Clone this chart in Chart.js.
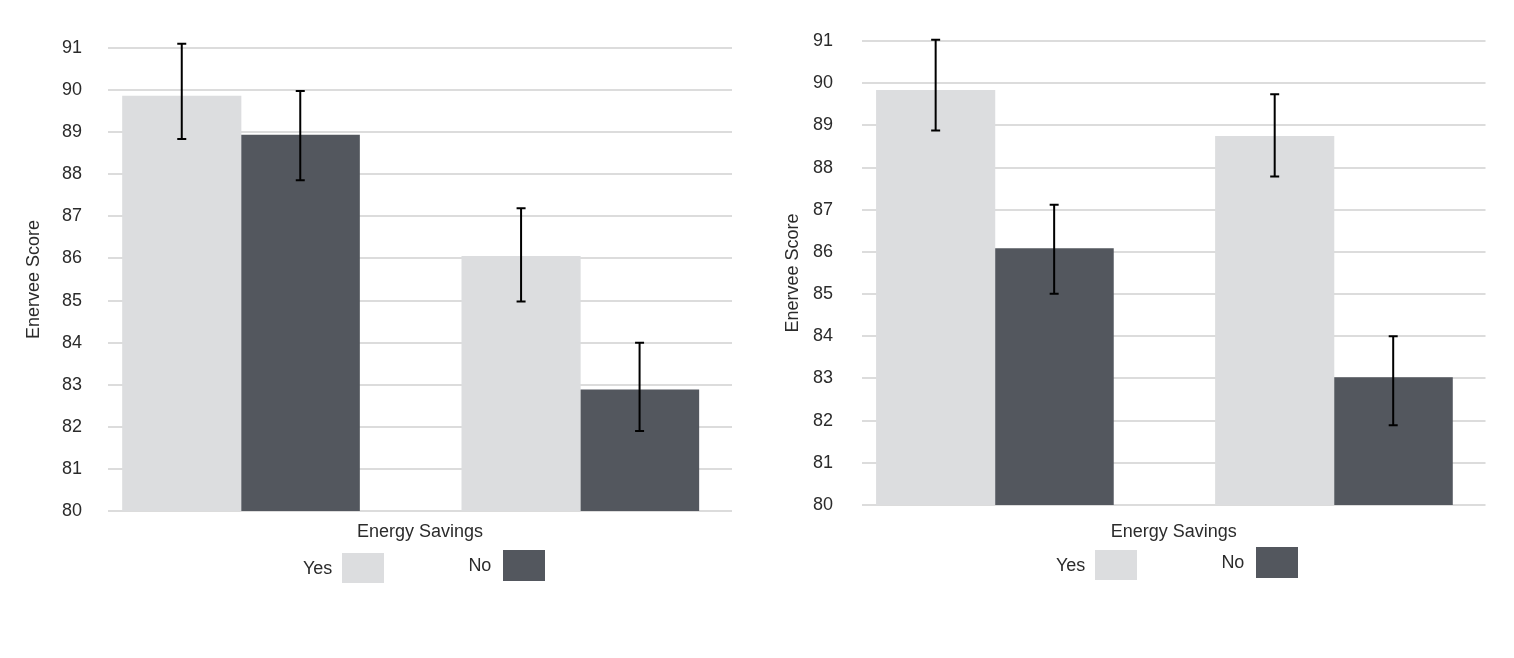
<!DOCTYPE html>
<html><head><meta charset="utf-8">
<script src="https://cdn.jsdelivr.net/npm/chart.js@4.4.1/dist/chart.umd.min.js"></script>
<style>
html,body{margin:0;padding:0;background:#fff;width:1514px;height:658px;overflow:hidden;font-family:"Liberation Sans",Arial,sans-serif;}
canvas{position:absolute;top:0;}
#c1{left:0}
#c2{left:757px}
.legend{position:absolute;display:flex;align-items:flex-start;font-size:18px;color:#2b2b2b;}
.item{display:flex;align-items:center;}
.sw{display:block;}
</style></head>
<body>
<canvas id="c1" width="757" height="600"></canvas>
<canvas id="c2" width="757" height="600"></canvas>
<div class="legend" id="lg1" style="left:303px;top:550px"></div>
<div class="legend" id="lg2" style="left:1056px;top:547px"></div>
<script>
// ---- data ----
const seriesLabels = ['Yes', 'No'];
const groupIndex = [0, 1];           // two bar groups, no visible category labels
const yMin = 80, yMax = 91;           // tick labels 80 ... 91
const xTitle = 'Energy Savings';
const yTitle = 'Enervee Score';

const leftYes      = [89.86, 86.05];
const leftYesLow   = [88.84, 84.98];
const leftYesHigh  = [91.10, 87.19];
const leftNo       = [88.93, 82.88];
const leftNoLow    = [87.86, 81.90];
const leftNoHigh   = [89.98, 84.00];

const rightYes     = [89.83, 88.74];
const rightYesLow  = [88.88, 87.79];
const rightYesHigh = [91.03, 89.74];
const rightNo      = [86.08, 83.02];
const rightNoLow   = [85.01, 81.89];
const rightNoHigh  = [87.12, 84.00];

// ---- styles ----
const colors = ['#dcdddf', '#53575e'];
const textColor = '#2b2b2b';
const font = {family: '"Liberation Sans", Arial, sans-serif', size: 18};

const errorBars = {
  id: 'errorBars',
  afterDatasetsDraw(chart) {
    const ctx = chart.ctx, y = chart.scales.y;
    chart.data.datasets.forEach((ds, di) => {
      const meta = chart.getDatasetMeta(di);
      meta.data.forEach((bar, i) => {
        const x = bar.x;
        const yl = y.getPixelForValue(ds.errLow[i]);
        const yh = y.getPixelForValue(ds.errHigh[i]);
        ctx.save();
        ctx.strokeStyle = '#000';
        ctx.lineWidth = 2;
        ctx.beginPath();
        ctx.moveTo(x, yl); ctx.lineTo(x, yh);
        ctx.moveTo(x - 4.5, yl); ctx.lineTo(x + 4.5, yl);
        ctx.moveTo(x - 4.5, yh); ctx.lineTo(x + 4.5, yh);
        ctx.stroke();
        ctx.restore();
      });
    });
  }
};

function makeChart(id, yes, yesLo, yesHi, no, noLo, noHi, L) {
  const toPts = arr => arr.map((v, i) => ({x: groupIndex[i], y: v}));
  return new Chart(document.getElementById(id), {
    type: 'bar',
    data: {
      datasets: [
        {label: seriesLabels[0], data: toPts(yes), errLow: yesLo, errHigh: yesHi, backgroundColor: colors[0]},
        {label: seriesLabels[1], data: toPts(no), errLow: noLo, errHigh: noHi, backgroundColor: colors[1]}
      ]
    },
    options: {
      responsive: false,
      animation: false,
      barThickness: 118.5,
      layout: {padding: {left: 0, right: L.padRight, top: L.padTop, bottom: 57.2}},
      plugins: {legend: {display: false}, tooltip: {enabled: false}},
      scales: {
        x: {
          type: 'linear',
          min: -0.392, max: 1.447,
          offset: false,
          grid: {display: false, drawTicks: false},
          border: {display: false},
          ticks: {display: false},
          title: {display: true, text: xTitle, color: textColor, font: font, padding: {top: L.xTitleTop, bottom: 0}}
        },
        y: {
          min: yMin, max: yMax,
          ticks: {stepSize: 1, color: textColor, font: font, padding: L.tickPad},
          grid: {color: '#dcdcdc', lineWidth: 2, drawTicks: false},
          border: {display: false},
          title: {display: true, text: yTitle, color: textColor, font: font, padding: {top: L.yTitleTop, bottom: 0}},
          afterFit(scale) { scale.width = L.axisWidth; }
        }
      }
    },
    plugins: [errorBars]
  });
}

makeChart('c1', leftYes, leftYesLow, leftYesHigh, leftNo, leftNoLow, leftNoHigh,
  {padRight: 25, padTop: 48, xTitleTop: 10.2, tickPad: 26, yTitleTop: 23.7, axisWidth: 108});
makeChart('c2', rightYes, rightYesLow, rightYesHigh, rightNo, rightNoLow, rightNoHigh,
  {padRight: 28.5, padTop: 41, xTitleTop: 16.2, tickPad: 29, yTitleTop: 25.2, axisWidth: 105});

function buildLegend(id) {
  const el = document.getElementById(id);
  seriesLabels.forEach((lab, i) => {
    const item = document.createElement('div');
    item.className = 'item';
    item.style.marginLeft = i === 0 ? '0px' : '84px';
    item.style.marginTop = i === 0 ? '3px' : '0px';
    const t = document.createElement('span');
    t.textContent = lab;
    const sw = document.createElement('span');
    sw.className = 'sw';
    sw.style.background = colors[i];
    sw.style.width = '42px';
    sw.style.height = i === 0 ? '30px' : '31px';
    sw.style.marginLeft = i === 0 ? '10px' : '12px';
    item.appendChild(t); item.appendChild(sw);
    el.appendChild(item);
  });
}
buildLegend('lg1');
buildLegend('lg2');
</script>
</body></html>
